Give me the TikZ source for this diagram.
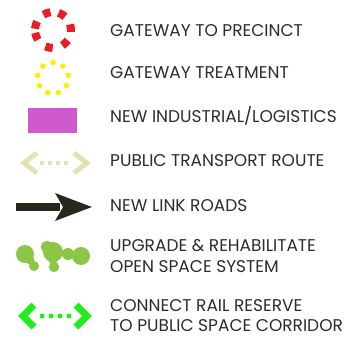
\documentclass[tikz,border=0pt]{standalone}
\usepackage{fontspec}
\setmainfont{Poppins}
\usepackage{tikz}
\usetikzlibrary{calc}

\definecolor{gatered}{RGB}{236,28,36}
\definecolor{treatyellow}{RGB}{255,238,0}
\definecolor{industrial}{RGB}{207,89,207}
\definecolor{transport}{RGB}{229,225,180}
\definecolor{linkroad}{RGB}{40,40,30}
\definecolor{openspace}{RGB}{140,198,70}
\definecolor{railgreen}{RGB}{32,236,32}
\definecolor{legendgray}{RGB}{45,45,45}

\tikzset{>=latex}
\tikzset{x=1pt, y=1pt}
\tikzset{legendtext/.style={anchor=base west, inner sep=0pt, text=legendgray,
  font=\fontsize{17}{20.5}\selectfont, align=left}}
\tikzset{chevron/.style={line width=5pt, miter limit=10}}

\begin{document}
\begin{tikzpicture}
  \useasboundingbox[fill=white] (0,0) rectangle (364,338);

  % gateway to precinct: broken red ring
  \foreach \a in {110,60,6,-47,-103,-159,164}
    \draw[gatered, line width=8pt] ($(53,308)+(\a-12:18)$) arc (\a-12:\a+12:18);
  % gateway treatment: ring of yellow dots
  \foreach \k in {0,...,8}
    \fill[treatyellow] ($(53,260)+(90-40*\k:15.5)$) circle (2.8);
  % industrial block
  \fill[industrial] (28,205) rectangle (77,230);
  % public transport route
  \draw[transport, chevron] (37,185) -- (24,175) -- (37,165);
  \draw[transport, chevron] (74,185) -- (87,175) -- (74,165);
  \foreach \x in {42,50,58,66}
    \fill[transport] (\x-2,173) rectangle (\x+2,177);
  % new link roads
  \fill[linkroad] (16,127) rectangle (60,135);
  \fill[linkroad] (92,131) .. controls (76,137) .. (55,145)
    -- (63,131) -- (55,117) .. controls (76,125) .. (92,131) -- cycle;
  % open space blobs
  \foreach \p/\r in {{(25,84)}/9, {(34,72)}/5, {(30,78)}/4.5, {(53,86)}/10,
      {(47,91)}/6, {(68,84)}/6, {(54,71)}/5.2, {(53,78)}/4.5, {(81,82)}/9}
    \fill[openspace] \p circle (\r);
  % rail reserve corridor
  \draw[railgreen, line width=7pt, miter limit=10] (34,33) -- (23,22) -- (34,11);
  \draw[railgreen, line width=7pt, miter limit=10] (76,33) -- (87,22) -- (76,11);
  \foreach \x in {42,51,60,69}
    \fill[railgreen] (\x,22) circle (2.5);

  % legend texts
  \node[legendtext] (precinct) at (110,301.5) {GATEWAY TO PRECINCT};
  \node[legendtext] (treatment) at (110,259) {GATEWAY TREATMENT};
  \node[legendtext] (industry) at (110,215) {NEW INDUSTRIAL/LOGISTICS};
  \node[legendtext] (route) at (110,172) {PUBLIC TRANSPORT ROUTE};
  \node[legendtext] (roads) at (110,126.5) {NEW LINK ROADS};
  \node[legendtext] (upgrade) at (110,66) {UPGRADE \& REHABILITATE\\OPEN SPACE SYSTEM};
  \node[legendtext] (rail) at (110,6.5) {CONNECT RAIL RESERVE\\TO PUBLIC SPACE CORRIDOR};
\end{tikzpicture}
\end{document}
